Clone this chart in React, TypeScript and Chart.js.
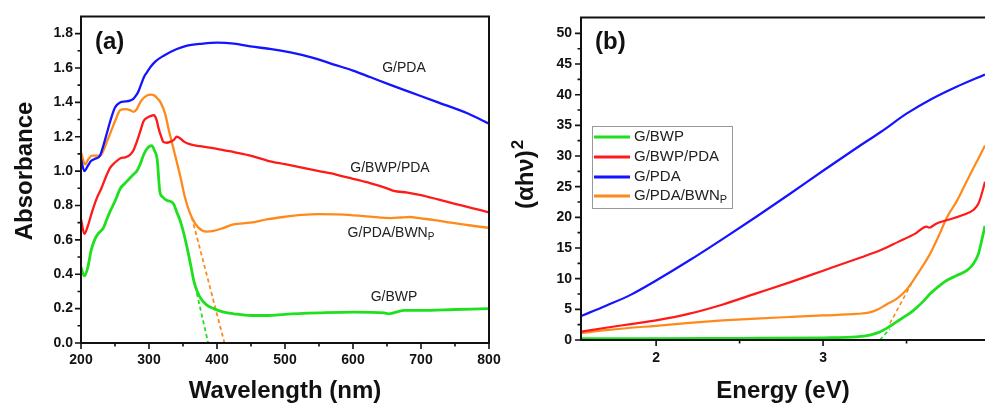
import React, { useEffect, useRef } from "react";
import { Chart, registerables } from "chart.js";
Chart.register(...registerables);

const FONT = '"Liberation Sans", Arial, Helvetica, sans-serif';

// ---------- Panel (a): Absorbance vs wavelength ----------
const gpdaNm = [200, 205, 210, 215, 220, 228, 233, 238, 243, 250, 258, 265, 272, 277, 281, 284, 288, 293, 297, 303, 310, 321, 341, 356, 375, 400, 425, 449, 480, 508, 540, 572, 600, 626, 656, 680, 725, 769, 800];
const gpdaAbs = [1.07, 1.0, 1.03, 1.06, 1.07, 1.09, 1.15, 1.22, 1.29, 1.37, 1.4, 1.405, 1.41, 1.42, 1.44, 1.46, 1.5, 1.55, 1.575, 1.61, 1.64, 1.67, 1.71, 1.73, 1.74, 1.748, 1.742, 1.725, 1.71, 1.69, 1.66, 1.62, 1.585, 1.546, 1.5, 1.465, 1.4, 1.335, 1.276];

const gpdabwnNm = [200, 206, 211, 216, 228, 233, 238, 244, 250, 258, 265, 272, 277, 282, 287, 292, 297, 303, 308, 313, 317, 324, 329, 336, 346, 353, 363, 373, 385, 395, 410, 424, 449, 475, 498, 525, 548, 575, 597, 625, 656, 670, 683, 700, 720, 744, 770, 800];
const gpdabwnAbs = [1.11, 1.04, 1.07, 1.09, 1.09, 1.12, 1.17, 1.23, 1.29, 1.355, 1.36, 1.355, 1.345, 1.36, 1.4, 1.425, 1.44, 1.445, 1.44, 1.42, 1.4, 1.33, 1.24, 1.13, 0.97, 0.845, 0.73, 0.67, 0.648, 0.652, 0.67, 0.69, 0.7, 0.72, 0.733, 0.745, 0.75, 0.748, 0.744, 0.735, 0.727, 0.73, 0.733, 0.725, 0.715, 0.7, 0.685, 0.67];

const gbwppdaNm = [200, 205, 210, 216, 223, 230, 237, 243, 250, 258, 265, 272, 277, 282, 287, 292, 297, 302, 307, 311, 314, 318, 321, 326, 331, 336, 341, 346, 352, 361, 375, 400, 425, 449, 475, 500, 525, 550, 575, 600, 625, 650, 660, 680, 700, 725, 750, 775, 800];
const gbwppdaAbs = [0.72, 0.635, 0.68, 0.76, 0.84, 0.9, 0.97, 1.02, 1.05, 1.075, 1.08, 1.095, 1.12, 1.17, 1.23, 1.29, 1.31, 1.32, 1.325, 1.3, 1.25, 1.2, 1.17, 1.165, 1.17, 1.18, 1.2, 1.19, 1.17, 1.155, 1.145, 1.13, 1.11, 1.09, 1.06, 1.04, 1.02, 1.0, 0.98, 0.955, 0.93, 0.9, 0.885, 0.875, 0.86, 0.835, 0.81, 0.785, 0.76];

const gbwpNm = [200, 205, 210, 215, 220, 225, 233, 238, 243, 250, 258, 265, 272, 277, 282, 287, 292, 297, 301, 304, 308, 312, 316, 320, 326, 331, 336, 341, 346, 351, 356, 361, 366, 371, 376, 385, 395, 410, 425, 450, 475, 500, 550, 600, 646, 652, 675, 700, 750, 800];
const gbwpAbs = [0.44, 0.39, 0.44, 0.54, 0.6, 0.635, 0.67, 0.72, 0.767, 0.825, 0.9, 0.93, 0.96, 0.98, 1.0, 1.04, 1.094, 1.13, 1.145, 1.148, 1.12, 1.07, 0.88, 0.85, 0.83, 0.825, 0.81, 0.76, 0.71, 0.64, 0.555, 0.46, 0.36, 0.3, 0.26, 0.22, 0.2, 0.18, 0.17, 0.16, 0.16, 0.167, 0.175, 0.18, 0.175, 0.17, 0.19, 0.19, 0.195, 0.2];

// tangent (dashed) extrapolation lines, panel (a)
const tanOrangeNm = [363, 411];
const tanOrangeAbs = [0.73, 0];
const tanGreenNm = [368, 387];
const tanGreenAbs = [0.33, 0];

const aXTicks = [200, 300, 400, 500, 600, 700, 800];
const aXMinor = [250, 350, 450, 550, 650, 750];
const aYTicks = [0, 0.2, 0.4, 0.6, 0.8, 1.0, 1.2, 1.4, 1.6, 1.8];
const aYMinor = [0.1, 0.3, 0.5, 0.7, 0.9, 1.1, 1.3, 1.5, 1.7];

// ---------- Panel (b): (αhν)^2 vs energy ----------
const bluE = [1.55, 1.7, 1.85, 2.0, 2.2, 2.4, 2.6, 2.8, 3.0, 3.2, 3.35, 3.5, 3.65, 3.8, 3.97];
const bluV = [3.9, 5.6, 7.4, 9.7, 13.0, 16.5, 20.1, 23.8, 27.6, 31.3, 34.0, 36.9, 39.3, 41.3, 43.3];

const redE = [1.55, 1.7, 1.85, 2.0, 2.2, 2.4, 2.6, 2.8, 3.0, 3.2, 3.35, 3.45, 3.55, 3.62, 3.635, 3.68, 3.75, 3.85, 3.9, 3.93, 3.95, 3.97];
const redV = [1.35, 2.0, 2.6, 3.2, 4.3, 5.8, 7.6, 9.4, 11.3, 13.2, 14.7, 16.0, 17.3, 18.5, 18.3, 19.0, 19.6, 20.5, 21.2, 22.2, 23.8, 25.8];

const orgE = [1.55, 1.7, 1.85, 2.0, 2.2, 2.4, 2.6, 2.8, 3.0, 3.2, 3.28, 3.33, 3.38, 3.44, 3.5, 3.54, 3.6, 3.64, 3.7, 3.74, 3.8, 3.85, 3.9, 3.97];
const orgV = [1.1, 1.6, 2.0, 2.3, 2.8, 3.2, 3.5, 3.75, 4.0, 4.25, 4.5, 5.0, 5.8, 6.7, 8.2, 9.7, 12.2, 14.0, 17.4, 19.9, 22.6, 25.3, 28.0, 31.7];

const grnE = [1.55, 2.0, 2.5, 3.0, 3.2, 3.28, 3.33, 3.38, 3.44, 3.5, 3.54, 3.6, 3.64, 3.7, 3.74, 3.8, 3.86, 3.9, 3.93, 3.95, 3.97];
const grnV = [0.2, 0.22, 0.28, 0.35, 0.5, 0.8, 1.2, 1.9, 2.95, 4.0, 4.8, 6.3, 7.5, 8.9, 9.7, 10.5, 11.3, 12.4, 14.0, 16.2, 18.6];

const tanBGreenE = [3.34, 3.4];
const tanBGreenV = [0, 1.8];
const tanBOrangeE = [3.4, 3.53];
const tanBOrangeV = [2.7, 9.2];

const bXTicks = [2, 3];
const bXMinor = [2.5, 3.5];
const bYTicks = [0, 5, 10, 15, 20, 25, 30, 35, 40, 45, 50];
const bYMinor = [2.5, 7.5, 12.5, 17.5, 22.5, 27.5, 32.5, 37.5, 42.5, 47.5];

const legendNames = ["G/BWP", "G/BWP/PDA", "G/PDA", "G/PDA/BWN"];

const GREEN = "#1fe01f";
const RED = "#ff1a1a";
const BLUE = "#1414ff";
const ORANGE = "#ff8a1c";
const legendColors = [GREEN, RED, BLUE, ORANGE];

const pts = (xs: number[], ys: number[]) => xs.map((x, i) => ({ x, y: ys[i] }));

const lineDs = (data: any, color: string, width: number, dash?: number[]) => ({
  data,
  borderColor: color,
  borderWidth: width,
  borderDash: dash || [],
  pointRadius: 0,
  fill: false,
  cubicInterpolationMode: dash ? "default" : "monotone",
  tension: 0,
});

function drawSubText(ctx: CanvasRenderingContext2D, main: string, sub: string, x: number, y: number, size: number, align: "left" | "center") {
  ctx.font = `${size}px ${FONT}`;
  const w1 = ctx.measureText(main).width;
  ctx.font = `${Math.round(size * 0.72)}px ${FONT}`;
  const w2 = ctx.measureText(sub).width;
  const start = align === "center" ? x - (w1 + w2) / 2 : x;
  ctx.textAlign = "left";
  ctx.font = `${size}px ${FONT}`;
  ctx.fillText(main, start, y);
  ctx.font = `${Math.round(size * 0.72)}px ${FONT}`;
  ctx.fillText(sub, start + w1, y + size * 0.28);
}

function axesPlugin(cfg: {
  xMajor: number[]; xMinor: number[]; yMajor: number[]; yMinor: number[]; right: boolean;
  extra: (ctx: CanvasRenderingContext2D, chart: any) => void;
}) {
  return {
    id: "axesDecor",
    afterDraw(chart: any) {
      const ctx: CanvasRenderingContext2D = chart.ctx;
      const ca = chart.chartArea;
      const xs = chart.scales.x;
      const ys = chart.scales.y;
      ctx.save();
      ctx.strokeStyle = "#111";
      ctx.lineWidth = 2;
      ctx.beginPath();
      ctx.moveTo(ca.left, ca.top);
      ctx.lineTo(ca.left, ca.bottom + 1);
      ctx.moveTo(ca.left - 1, ca.bottom);
      ctx.lineTo(ca.right + 1, ca.bottom);
      ctx.moveTo(ca.left - 1, ca.top);
      ctx.lineTo(ca.right + 1, ca.top);
      if (cfg.right) {
        ctx.moveTo(ca.right, ca.top);
        ctx.lineTo(ca.right, ca.bottom);
      }
      ctx.stroke();
      ctx.lineWidth = 1.6;
      ctx.beginPath();
      cfg.xMajor.forEach((v) => {
        const p = xs.getPixelForValue(v);
        ctx.moveTo(p, ca.bottom);
        ctx.lineTo(p, ca.bottom + 6);
      });
      cfg.xMinor.forEach((v) => {
        const p = xs.getPixelForValue(v);
        ctx.moveTo(p, ca.bottom);
        ctx.lineTo(p, ca.bottom + 3.5);
      });
      cfg.yMajor.forEach((v) => {
        const p = ys.getPixelForValue(v);
        ctx.moveTo(ca.left, p);
        ctx.lineTo(ca.left - 6, p);
      });
      cfg.yMinor.forEach((v) => {
        const p = ys.getPixelForValue(v);
        ctx.moveTo(ca.left, p);
        ctx.lineTo(ca.left - 3.5, p);
      });
      ctx.stroke();
      ctx.fillStyle = "#111";
      cfg.extra(ctx, chart);
      ctx.restore();
    },
  };
}

function drawRotTitle(ctx: CanvasRenderingContext2D, text: string, sup: string, bx: number, cy: number, size: number) {
  ctx.save();
  ctx.translate(bx, cy);
  ctx.rotate(-Math.PI / 2);
  ctx.font = `bold ${size}px ${FONT}`;
  const w1 = ctx.measureText(text).width;
  const supSize = Math.round(size * 0.72);
  ctx.font = `bold ${supSize}px ${FONT}`;
  const w2 = sup ? ctx.measureText(sup).width : 0;
  const start = -(w1 + w2) / 2;
  ctx.textAlign = "left";
  ctx.textBaseline = "alphabetic";
  ctx.font = `bold ${size}px ${FONT}`;
  ctx.fillText(text, start, 0);
  if (sup) {
    ctx.font = `bold ${supSize}px ${FONT}`;
    ctx.fillText(sup, start + w1 + 1, -size * 0.42);
  }
  ctx.restore();
}

const tickFont = { family: FONT, size: 14, weight: "bold" as const };

export default function App() {
  const refA = useRef<HTMLCanvasElement>(null);
  const refB = useRef<HTMLCanvasElement>(null);

  useEffect(() => {
    document.body.style.margin = "0";
    const chartA = new Chart(refA.current!, {
      type: "line",
      data: {
        datasets: [
          lineDs(pts(gpdaNm, gpdaAbs), BLUE, 2.3),
          lineDs(pts(gbwppdaNm, gbwppdaAbs), RED, 2.3),
          lineDs(pts(gpdabwnNm, gpdabwnAbs), ORANGE, 2.3),
          lineDs(pts(gbwpNm, gbwpAbs), GREEN, 2.8),
          lineDs(pts(tanOrangeNm, tanOrangeAbs), ORANGE, 1.8, [4, 3]),
          lineDs(pts(tanGreenNm, tanGreenAbs), GREEN, 1.8, [4, 3]),
        ] as any,
      },
      options: {
        responsive: false,
        animation: false,
        events: [],
        layout: { padding: { top: 14, right: 21, left: 0, bottom: 0 } },
        plugins: { legend: { display: false }, tooltip: { enabled: false } },
        scales: {
          x: {
            type: "linear",
            min: 200,
            max: 800,
            grid: { display: false, drawTicks: false },
            border: { display: false },
            afterBuildTicks: (s: any) => { s.ticks = aXTicks.map((v) => ({ value: v })); },
            afterFit: (s: any) => { s.height = 62; },
            ticks: { font: tickFont, color: "#111", padding: 9, maxRotation: 0, callback: (v: any) => String(v) },
          },
          y: {
            type: "linear",
            min: 0,
            max: 1.9,
            grid: { display: false, drawTicks: false },
            border: { display: false },
            afterBuildTicks: (s: any) => { s.ticks = aYTicks.map((v) => ({ value: v })); },
            afterFit: (s: any) => { s.width = 81; },
            ticks: { font: tickFont, color: "#111", padding: 8, callback: (v: any) => Number(v).toFixed(1) },
          },
        },
      } as any,
      plugins: [
        axesPlugin({
          xMajor: aXTicks, xMinor: aXMinor, yMajor: aYTicks, yMinor: aYMinor, right: true,
          extra: (ctx, chart) => {
            const ca = chart.chartArea;
            ctx.textBaseline = "middle";
            ctx.textAlign = "left";
            ctx.font = `bold 24px ${FONT}`;
            ctx.fillText("(a)", 95, 42);
            ctx.textAlign = "center";
            ctx.textBaseline = "alphabetic";
            ctx.fillText("Wavelength (nm)", (ca.left + ca.right) / 2, 398);
            drawRotTitle(ctx, "Absorbance", "", 32, 171, 24);
            ctx.fillStyle = "#222";
            ctx.textBaseline = "middle";
            ctx.font = `14px ${FONT}`;
            ctx.textAlign = "center";
            ctx.fillText("G/PDA", 404, 68);
            ctx.fillText("G/BWP/PDA", 390, 168);
            ctx.fillText("G/BWP", 394, 297);
            drawSubText(ctx, "G/PDA/BWN", "P", 391, 233, 14, "center");
          },
        }),
      ],
    });

    const chartB = new Chart(refB.current!, {
      type: "line",
      data: {
        datasets: [
          lineDs(pts(bluE, bluV), BLUE, 2.2),
          lineDs(pts(redE, redV), RED, 2.2),
          lineDs(pts(orgE, orgV), ORANGE, 2.2),
          lineDs(pts(grnE, grnV), GREEN, 2.8),
          lineDs(pts(tanBGreenE, tanBGreenV), GREEN, 1.6, [4, 3]),
          lineDs(pts(tanBOrangeE, tanBOrangeV), ORANGE, 1.6, [4, 3]),
        ] as any,
      },
      options: {
        responsive: false,
        animation: false,
        events: [],
        layout: { padding: { top: 14, right: 0, left: 0, bottom: 0 } },
        plugins: { legend: { display: false }, tooltip: { enabled: false } },
        scales: {
          x: {
            type: "linear",
            min: 1.55,
            max: 3.97,
            grid: { display: false, drawTicks: false },
            border: { display: false },
            afterBuildTicks: (s: any) => { s.ticks = bXTicks.map((v) => ({ value: v })); },
            afterFit: (s: any) => { s.height = 65; },
            ticks: { font: tickFont, color: "#111", padding: 10, maxRotation: 0, callback: (v: any) => String(v) },
          },
          y: {
            type: "linear",
            min: 0,
            max: 52.6,
            grid: { display: false, drawTicks: false },
            border: { display: false },
            afterBuildTicks: (s: any) => { s.ticks = bYTicks.map((v) => ({ value: v })); },
            afterFit: (s: any) => { s.width = 81; },
            ticks: { font: tickFont, color: "#111", padding: 9, callback: (v: any) => String(v) },
          },
        },
      } as any,
      plugins: [
        axesPlugin({
          xMajor: bXTicks, xMinor: bXMinor, yMajor: bYTicks, yMinor: bYMinor, right: false,
          extra: (ctx, chart) => {
            const ca = chart.chartArea;
            ctx.textBaseline = "middle";
            ctx.textAlign = "left";
            ctx.font = `bold 24px ${FONT}`;
            ctx.fillText("(b)", 95, 42);
            ctx.textAlign = "center";
            ctx.textBaseline = "alphabetic";
            ctx.fillText("Energy (eV)", (ca.left + ca.right) / 2, 398);
            drawRotTitle(ctx, "(αhν)", "2", 33, 175, 24);
            // legend
            ctx.fillStyle = "#fff";
            ctx.fillRect(92, 126, 140, 82);
            ctx.strokeStyle = "#999";
            ctx.lineWidth = 1;
            ctx.strokeRect(92.5, 126.5, 140, 82);
            const rows = [137, 157, 177, 196];
            legendNames.forEach((name, i) => {
              ctx.strokeStyle = legendColors[i];
              ctx.lineWidth = 3;
              ctx.beginPath();
              ctx.moveTo(94, rows[i]);
              ctx.lineTo(130, rows[i]);
              ctx.stroke();
              ctx.fillStyle = "#222";
              ctx.textBaseline = "middle";
              if (i === 3) {
                drawSubText(ctx, name, "P", 134, rows[i], 15, "left");
              } else {
                ctx.textAlign = "left";
                ctx.font = `15px ${FONT}`;
                ctx.fillText(name, 134, rows[i]);
              }
            });
          },
        }),
      ],
    });

    return () => {
      chartA.destroy();
      chartB.destroy();
    };
  }, []);

  return (
    <div style={{ position: "absolute", left: 0, top: 0, width: 985, height: 405, overflow: "hidden", background: "#fff" }}>
      <canvas ref={refA} width={510} height={405} style={{ position: "absolute", left: 0, top: 0 }} />
      <canvas ref={refB} width={485} height={405} style={{ position: "absolute", left: 500, top: 0 }} />
    </div>
  );
}
